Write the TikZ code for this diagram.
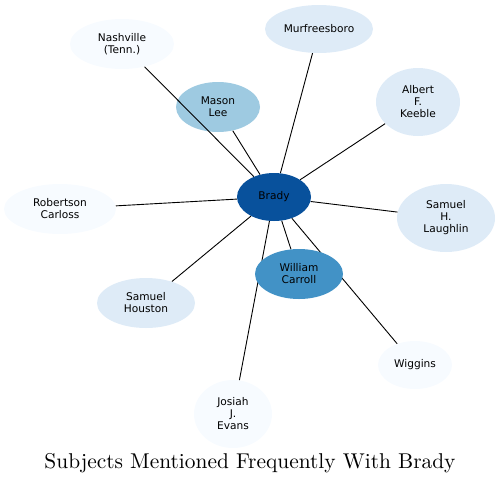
\documentclass[tikz,border=0pt]{standalone}
\usepackage{fontspec}
\newfontfamily\labelfont{DejaVu Sans}
\newfontfamily\titlefont{lmroman10-regular.otf}
\usetikzlibrary{shapes,positioning,backgrounds}

\definecolor{bluedark}{HTML}{08519C}
\definecolor{bluemid}{HTML}{4292C6}
\definecolor{bluesoft}{HTML}{9ECAE1}
\definecolor{bluepale}{HTML}{DEEBF7}
\definecolor{bluefaint}{HTML}{F7FBFF}

\begin{document}
\begin{tikzpicture}[x=1pt,y=-1pt,on grid,
        subject/.style={ellipse,inner sep=0pt,align=center,font=\labelfont\fontsize{10.6}{12}\selectfont},
        link/.style={line width=0.9pt}]
        \useasboundingbox (0,0) rectangle (500,483);
        \node[subject,fill=bluedark,minimum width=74pt,minimum height=48pt] (brady) at (274,197) {Brady};
        \node[subject,fill=bluesoft,minimum width=84pt,minimum height=50pt,above left = 90pt and 56pt of brady] (masonlee) {Mason\\Lee};
        \node[subject,fill=bluefaint,minimum width=104pt,minimum height=50pt,above left = 153pt and 152pt of brady] (nashville) {Nashville\\(Tenn.)};
        \node[subject,fill=bluepale,minimum width=108pt,minimum height=48pt,above right = 168pt and 45pt of brady] (murfreesboro) {Murfreesboro};
        \node[subject,fill=bluepale,minimum width=84pt,minimum height=68pt,above right = 95pt and 144pt of brady] (keeble) {Albert\\F.\\Keeble};
        \node[subject,fill=bluefaint,minimum width=112pt,minimum height=50pt,below left = 12pt and 214pt of brady] (carloss) {Robertson\\Carloss};
        \node[subject,fill=bluepale,minimum width=98pt,minimum height=68pt,below right = 21pt and 172pt of brady] (laughlin) {Samuel\\H.\\Laughlin};
        \node[subject,fill=bluemid,minimum width=88pt,minimum height=50pt,below right = 77pt and 25pt of brady] (carroll) {William\\Carroll};
        \node[subject,fill=bluepale,minimum width=98pt,minimum height=50pt,below left = 106pt and 128pt of brady] (houston) {Samuel\\Houston};
        \node[subject,fill=bluefaint,minimum width=74pt,minimum height=48pt,below right = 168pt and 141pt of brady] (wiggins) {Wiggins};
        \node[subject,fill=bluefaint,minimum width=78pt,minimum height=68pt,below left = 217pt and 41pt of brady] (evans) {Josiah\\J.\\Evans};
        \begin{scope}[on background layer]
                \draw[link] (brady) -- (masonlee);
                \draw[link] (brady) -- (murfreesboro);
                \draw[link] (brady) -- (keeble);
                \draw[link] (brady) -- (carloss);
                \draw[link] (brady) -- (laughlin);
                \draw[link] (brady) -- (carroll);
                \draw[link] (brady) -- (houston);
                \draw[link] (brady) -- (wiggins);
                \draw[link] (brady) -- (evans);
        \end{scope}
        \draw[link] (brady) -- (nashville);
        \node[anchor=base,font=\titlefont\fontsize{21.4}{25}\selectfont] (title) at (250,468) {Subjects Mentioned Frequently With Brady};
\end{tikzpicture}
\end{document}
